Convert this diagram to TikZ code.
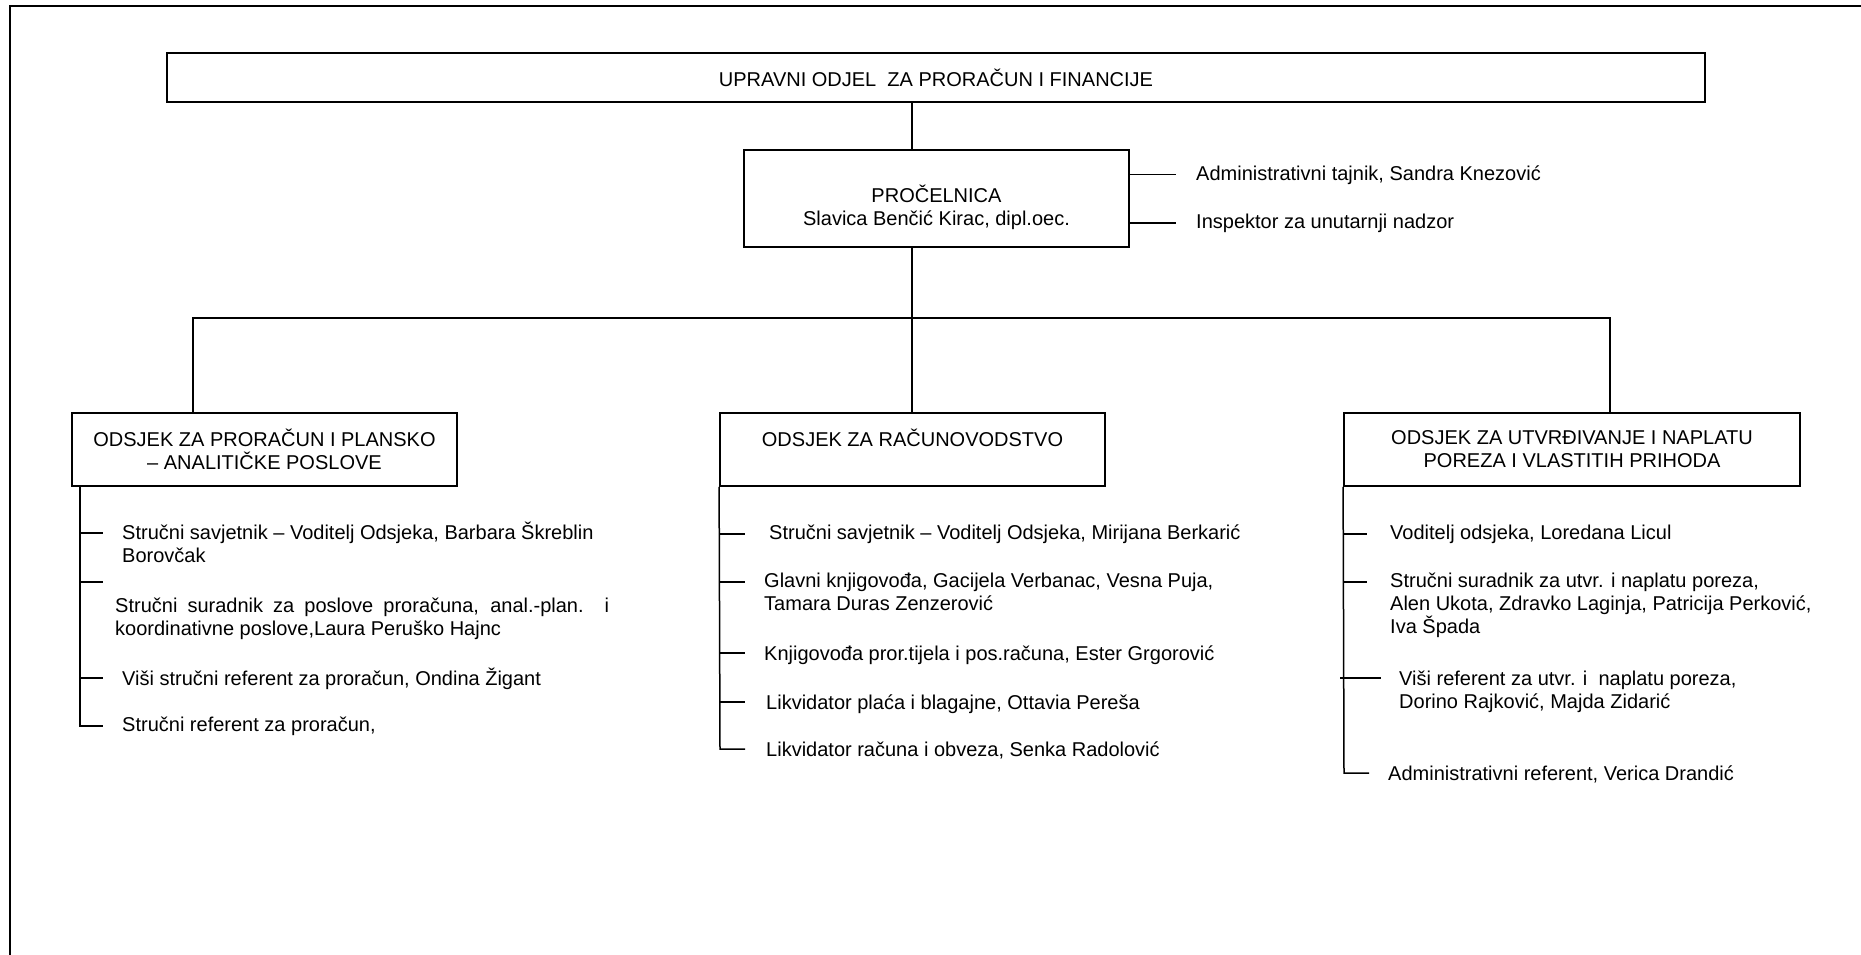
\documentclass[tikz,border=0pt]{standalone}
\usepackage{fontspec}
\setmainfont{Liberation Sans}
\usetikzlibrary{positioning}

\begin{document}
\begin{tikzpicture}[x=1pt,y=-1pt,font=\fontsize{20pt}{23pt}\selectfont]
\tikzstyle{okvir}=[line width=2.5pt]
\tikzstyle{box}=[rectangle, draw=black, line width=1.8pt, inner sep=0pt, align=center]
\tikzstyle{linija}=[line width=1.5pt]
\tikzstyle{txt}=[anchor=base west, inner sep=0pt, align=left]
\useasboundingbox (0,0) rectangle (1861,955);
\draw[okvir] (10,955) -- (10,6) -- (1861,6);
\node (odjel) [box, minimum width=1538pt, minimum height=49pt] at (936,77.5) {UPRAVNI ODJEL\ \ ZA PRORAČUN I FINANCIJE};
\node (celnica) [box, minimum width=385pt, minimum height=97pt] at (936.5,198.5) {};
\node (celnicatxt) [align=center, inner sep=0pt] at ([yshift=-9pt]celnica.center) {PROČELNICA\\Slavica Benčić Kirac, dipl.oec.};
\node (tajnik) [txt] at (1196,180) {Administrativni tajnik, Sandra Knezović};
\node (inspektor) [txt] at (1196,228) {Inspektor za unutarnji nadzor};
\node (proracun) [box, minimum width=385pt, minimum height=73pt] at (264.5,449.5) {ODSJEK ZA PRORAČUN I PLANSKO\\– ANALITIČKE POSLOVE};
\node (racunovodstvo) [box, minimum width=385pt, minimum height=73pt] at (912.5,449.5) {ODSJEK ZA RAČUNOVODSTVO\\~};
\node (porez) [box, minimum width=456pt, minimum height=73pt] at (1572,449.5) {ODSJEK ZA UTVRĐIVANJE I NAPLATU\\POREZA I VLASTITIH PRIHODA};
\coordinate (trunk) at (912,318);
\coordinate (busL) at (193,318);
\coordinate (busR) at (1610,318);
\draw[linija] (odjel.south -| trunk) -- (celnica.north -| trunk);
\draw[linija] (celnica.south -| trunk) -- (racunovodstvo.north -| trunk);
\draw[linija] (proracun.north -| busL) -- (busL) -- (busR) -- (porez.north -| busR);
\draw[linija] (celnica.east |- tajnik.west) -- ([xshift=-20pt]tajnik.west);
\draw[linija] (celnica.east |- inspektor.west) -- ([xshift=-20pt]inspektor.west);
\node (lsav) [txt] at (122,562) {Stručni savjetnik – Voditelj Odsjeka, Barbara Škreblin\\Borovčak};
\node (lsur) [txt] at (115,635) {\makebox[494pt][s]{Stručni suradnik za poslove proračuna, anal.-plan. i}\\koordinativne poslove,Laura Peruško Hajnc};
\node (lvisi) [txt] at (122,685) {Viši stručni referent za proračun, Ondina Žigant};
\node (lref) [txt] at (122,731) {Stručni referent za proračun,};
\coordinate (lvert) at (80,726);
\draw[linija] (proracun.south -| lvert) -- (lvert) -- (103,726);
\draw[linija] (80,533) -- (103,533);
\draw[linija] (80,582) -- (103,582);
\draw[linija] (80,678) -- (103,678);
\node (msav) [txt] at (769,539) {Stručni savjetnik – Voditelj Odsjeka, Mirijana Berkarić};
\node (mglav) [txt] at (764,610) {Glavni knjigovođa, Gacijela Verbanac, Vesna Puja,\\Tamara Duras Zenzerović};
\node (mknj) [txt] at (764,660) {Knjigovođa pror.tijela i pos.računa, Ester Grgorović};
\node (mlikp) [txt] at (766,709) {Likvidator plaća i blagajne, Ottavia Pereša};
\node (mlikr) [txt] at (766,756) {Likvidator računa i obveza, Senka Radolović};
\coordinate (mvert) at (720,749);
\draw[linija] (racunovodstvo.south west) -- (mvert) -- (745,749);
\draw[linija] (720,534) -- (745,534);
\draw[linija] (720,582) -- (745,582);
\draw[linija] (720,653) -- (745,653);
\draw[linija] (720,702) -- (745,702);
\node (rvod) [txt] at (1390,539) {Voditelj odsjeka, Loredana Licul};
\node (rsur) [txt] at (1390,633) {Stručni suradnik za utvr. i naplatu poreza,\\Alen Ukota, Zdravko Laginja, Patricija Perković,\\Iva Špada};
\node (rvisi) [txt] at (1399,708) {Viši referent za utvr. i\ \ naplatu poreza,\\Dorino Rajković, Majda Zidarić};
\node (radm) [txt] at (1388,780) {Administrativni referent, Verica Drandić};
\coordinate (rvert) at (1344,773);
\draw[linija] (porez.south west) -- (rvert) -- (1369,773);
\draw[linija] (1344,534) -- (1367,534);
\draw[linija] (1344,582) -- (1367,582);
\draw[linija] (1340,678) -- (1381,678);
\end{tikzpicture}
\end{document}
